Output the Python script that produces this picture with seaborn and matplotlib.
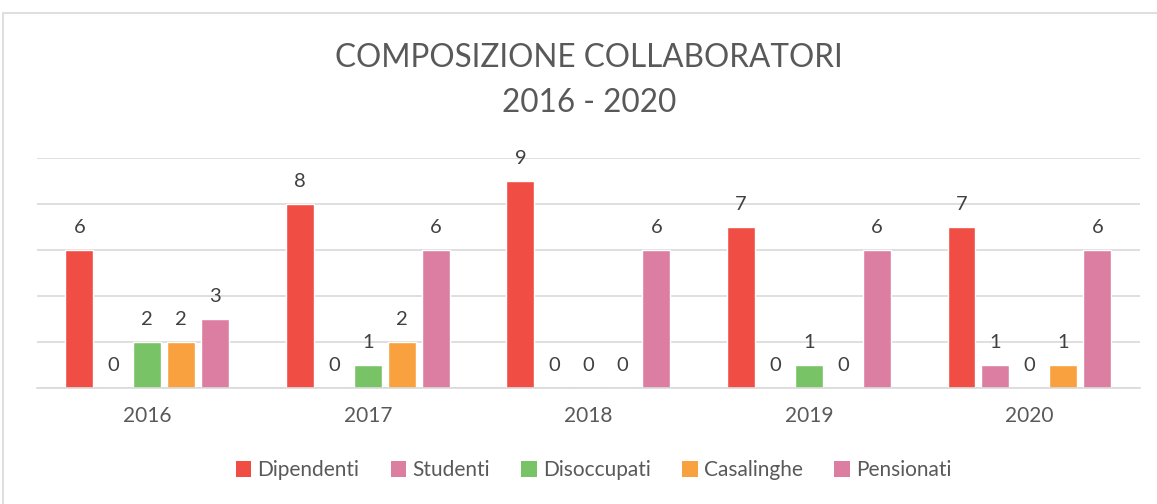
import matplotlib
matplotlib.use("Agg")
import matplotlib.pyplot as plt
import seaborn as sns
import pandas as pd
from matplotlib.patches import Rectangle, Patch

years = ["2016", "2017", "2018", "2019", "2020"]
categories = ["Dipendenti", "Studenti", "Disoccupati", "Casalinghe", "Pensionati"]
dipendenti = [6, 8, 9, 7, 7]
studenti = [0, 0, 0, 0, 1]
disoccupati = [2, 1, 0, 1, 0]
casalinghe = [2, 2, 0, 0, 1]
pensionati = [3, 6, 6, 6, 6]
colors = ["#F04E45", "#DB7EA2", "#78C365", "#F8A13E", "#DB7EA2"]

series = [dipendenti, studenti, disoccupati, casalinghe, pensionati]
rows = []
for cat, vals in zip(categories, series):
    for y, v in zip(years, vals):
        rows.append({"Anno": y, "Categoria": cat, "Valore": v})
df = pd.DataFrame(rows)

sns.set_theme(style="white")
plt.rcParams['font.family'] = ['Lato', 'DejaVu Sans']

fig = plt.figure(figsize=(11.57, 5.04), dpi=100)
ax = fig.add_axes([0.032, 0.230, 0.953, 0.456])

sns.barplot(data=df, x="Anno", y="Valore", hue="Categoria", order=years,
            hue_order=categories, palette=colors, width=0.77, gap=0.18,
            saturation=1, ax=ax, legend=False, errorbar=None)

ax.set_xlim(-0.5, 4.5)
ax.set_ylim(0, 10)
ax.set_yticks([0, 2, 4, 6, 8, 10])
ax.set_yticklabels([])
ax.tick_params(axis="y", length=0)
ax.tick_params(axis="x", length=0, labelsize=15, colors="#595959", pad=13)
ax.grid(axis="y", color="#D9D9D9", linewidth=1.2)
ax.set_axisbelow(True)
for s in ["top", "right", "left"]:
    ax.spines[s].set_visible(False)
ax.spines["bottom"].set_color("#D9D9D9")
ax.spines["bottom"].set_linewidth(1.2)
ax.set_xlabel("")
ax.set_ylabel("")

for cont in ax.containers:
    lbls = ax.bar_label(cont, fmt="%d", padding=10, fontsize=14.5, color="#404040")
    for t in lbls:
        t.set_clip_on(False)

fig.text(0.509, 0.885, "COMPOSIZIONE COLLABORATORI", ha="center", va="center",
         fontsize=22.7, color="#595959")
fig.text(0.509, 0.795, "2016 - 2020", ha="center", va="center",
         fontsize=22.7, color="#595959")

handles = [Patch(facecolor=c, edgecolor="none") for c in colors]
fig.legend(handles, categories, loc="center", bbox_to_anchor=(0.513, 0.067), ncol=5,
           frameon=False, fontsize=15, handlelength=0.75, handleheight=0.75,
           handletextpad=0.3, columnspacing=1.5, labelcolor="#595959")

fig.patches.append(Rectangle((0.003, -0.01), 1.1, 0.985, transform=fig.transFigure,
                             fill=False, edgecolor="#D9D9D9", linewidth=1.2))

fig.savefig("out.png", dpi=100)
